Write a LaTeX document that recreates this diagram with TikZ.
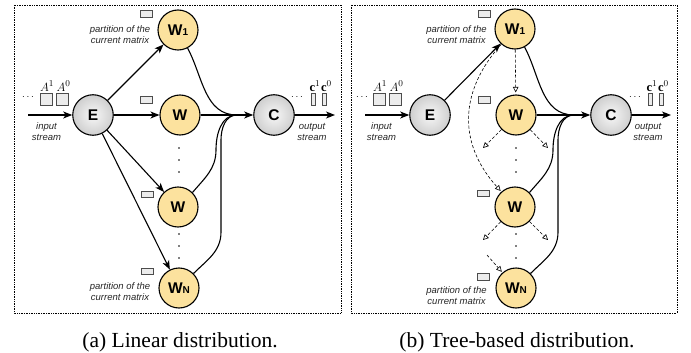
\documentclass[tikz,border=0pt]{standalone}
\usepackage{fontspec}
\setmainfont{Liberation Serif}
\setsansfont{Liberation Sans}
\usetikzlibrary{arrows.meta}
\definecolor{wfill}{RGB}{252,226,158}
\begin{document}
\begin{tikzpicture}[x=1pt,y=-1pt,
  wn/.style={circle, draw, line width=1.1pt, fill=wfill, minimum size=40pt, inner sep=0pt,
    font=\sffamily\bfseries\fontsize{15.5}{15.5}\selectfont},
  gn/.style={circle, draw, line width=1.1pt, inner color=gray!6, outer color=gray!38,
    minimum size=40.5pt, inner sep=0pt, font=\sffamily\bfseries\fontsize{15.5}{15.5}\selectfont},
  part/.style={draw=black!70, fill=gray!15, line width=0.7pt, minimum width=12pt,
    minimum height=6.5pt, inner sep=0pt},
  ibox/.style={draw=black!70, fill=gray!15, line width=0.7pt, minimum width=12.5pt,
    minimum height=12.5pt, inner sep=0pt},
  cbox/.style={draw=black!70, fill=gray!15, line width=0.7pt, minimum width=4pt,
    minimum height=12.5pt, inner sep=0pt},
  lbl/.style={font=\sffamily\itshape\fontsize{9.5}{11}\selectfont, align=center, inner sep=0pt,
    text=black!85},
  mlbl/.style={inner sep=0pt, font=\fontsize{12.5}{12.5}\selectfont},
  arr/.style={line width=1.1pt, -{Stealth[length=9pt,width=7pt,inset=2.5pt]}},
  ln/.style={line width=1.1pt},
  dsh/.style={line width=0.6pt, dash pattern=on 3pt off 2pt,
    -{Triangle[open,length=5.5pt,width=5.5pt]}},
  frm/.style={densely dotted, line width=0.7pt},
  captxt/.style={font=\fontsize{21.5}{23}\selectfont, inner sep=0pt}]
\useasboundingbox (0,0) rectangle (691,353);
\newcommand{\sbs}[1]{{\fontsize{10}{10}\selectfont #1}}

% ================= panel (a) =================
\draw[frm] (14,5) rectangle (341,313);
\node[gn] (aE) at (93,115) {E};
\node[wn] (aW1) at (178,30) {W\sbs{1}};
\node[wn] (aW) at (180,115) {W};
\node[wn] (aW3) at (178,207) {W};
\node[wn] (aWN) at (179,288) {W\sbs{N}};
\node[gn] (aC) at (274,115) {C};

\node[part] (ap1) at (146.5,14) {};
\node[part] (ap2) at (146.5,100) {};
\node[part] (ap3) at (147.5,194.5) {};
\node[part] (ap4) at (147.5,271.5) {};
\node[lbl] (al1) at (120,34.5) {partition of the\\current matrix};
\node[lbl] (al2) at (120,291.5) {partition of the\\current matrix};

\node[ibox] (aA1) at (46.5,99.5) {};
\node[ibox] (aA0) at (62.5,99.5) {};
\node[mlbl] (aA1l) at (47,86) {$A^1$};
\node[mlbl] (aA0l) at (63.5,86) {$A^0$};
\node[inner sep=0pt] (aid) at (28,97) {$\cdots$};
\coordinate (ain) at (28,115);
\node[lbl] (ains) at (46.5,131.5) {input\\stream};

\node[cbox] (ac1) at (313,99.5) {};
\node[cbox] (ac0) at (324,99.5) {};
\node[mlbl] (ac1l) at (315,86) {$\mathbf{c}^1$};
\node[mlbl] (ac0l) at (326.5,86) {$\mathbf{c}^0$};
\node[inner sep=0pt] (aod) at (297,97) {$\cdots$};
\coordinate (aout) at (335,115);
\node[lbl] (aouts) at (312,131.5) {output\\stream};

\foreach \yy in {148,160,172,234,246,258} \fill (179,\yy) circle (0.8);

\draw[arr] (ain) -- (aE);
\draw[arr] (aE) -- (aW1);
\draw[arr] (aE) -- (aW);
\draw[arr] (aE) -- (aW3);
\draw[arr] (aE) -- (aWN);
\draw[arr] (aW) -- (aC);
\draw[arr] (aC) -- (aout);
\coordinate (am) at (237,115);
\draw[ln] (aW1) to[out=-62,in=180] (am);
\draw[ln] (aW3.45) to[out=50,in=-90] (216,150) to[out=90,in=180] (am);
\draw[ln] (aWN.45) to[out=45,in=-90] (221,232) -- (221,140) to[out=90,in=180] (am);

\node[captxt] (acap) at (180,342) {(a) Linear distribution.};

% ================= panel (b) =================
\draw[frm] (351,5) rectangle (677,313);
\node[gn] (bE) at (430,115) {E};
\node[wn] (bW1) at (515,29) {W\sbs{1}};
\node[wn] (bW) at (516,115) {W};
\node[wn] (bW3) at (515,207) {W};
\node[wn] (bWN) at (516,288) {W\sbs{N}};
\node[gn] (bC) at (611,115) {C};

\node[part] (bp1) at (484,14) {};
\node[part] (bp2) at (484,100) {};
\node[part] (bp3) at (483.5,193.5) {};
\node[part] (bp4) at (483.5,277) {};
\node[lbl] (bl1) at (456.5,34.5) {partition of the\\current matrix};
\node[lbl] (bl2) at (456.5,296) {partition of the\\current matrix};

\node[ibox] (bA1) at (379.5,99.5) {};
\node[ibox] (bA0) at (395.5,99.5) {};
\node[mlbl] (bA1l) at (380,86) {$A^1$};
\node[mlbl] (bA0l) at (396.5,86) {$A^0$};
\node[inner sep=0pt] (bid) at (362,97) {$\cdots$};
\coordinate (bin) at (365,115);
\node[lbl] (bins) at (381.5,132) {input\\stream};

\node[cbox] (bc1) at (650,99.5) {};
\node[cbox] (bc0) at (661.5,99.5) {};
\node[mlbl] (bc1l) at (652,86) {$\mathbf{c}^1$};
\node[mlbl] (bc0l) at (663.5,86) {$\mathbf{c}^0$};
\node[inner sep=0pt] (bod) at (635,97) {$\cdots$};
\coordinate (bout) at (671,115);
\node[lbl] (bouts) at (648,132) {output\\stream};

\foreach \yy in {148,160,172,234,246,258} \fill (516,\yy) circle (0.8);

\draw[arr] (bin) -- (bE);
\draw[arr] (bE) -- (bW1);
\draw[arr] (bW) -- (bC);
\draw[arr] (bC) -- (bout);
\coordinate (bm) at (574,115);
\draw[ln] (bW1) to[out=-62,in=180] (bm);
\draw[ln] (bW3.45) to[out=50,in=-90] (553,150) to[out=90,in=180] (bm);
\draw[ln] (bWN.45) to[out=45,in=-90] (558,232) -- (558,140) to[out=90,in=180] (bm);

\coordinate (bd1) at (483,148);
\coordinate (bd2) at (548,148);
\coordinate (bd3) at (483,240);
\coordinate (bd4) at (548,240);
\coordinate (bd5) at (487,255);
\draw[dsh, shorten >=2pt] (bW1) -- (bW);
\draw[dsh, shorten >=1pt] (bW1) .. controls (462,88) and (455,140) .. (bW3);
\draw[dsh] (bW) -- (bd1);
\draw[dsh] (bW) -- (bd2);
\draw[dsh] (bW3) -- (bd3);
\draw[dsh] (bW3) -- (bd4);
\draw[dsh, shorten >=1pt] (bd5) -- (bWN);

\node[captxt] (bcap) at (517,342) {(b) Tree-based distribution.};
\end{tikzpicture}
\end{document}
